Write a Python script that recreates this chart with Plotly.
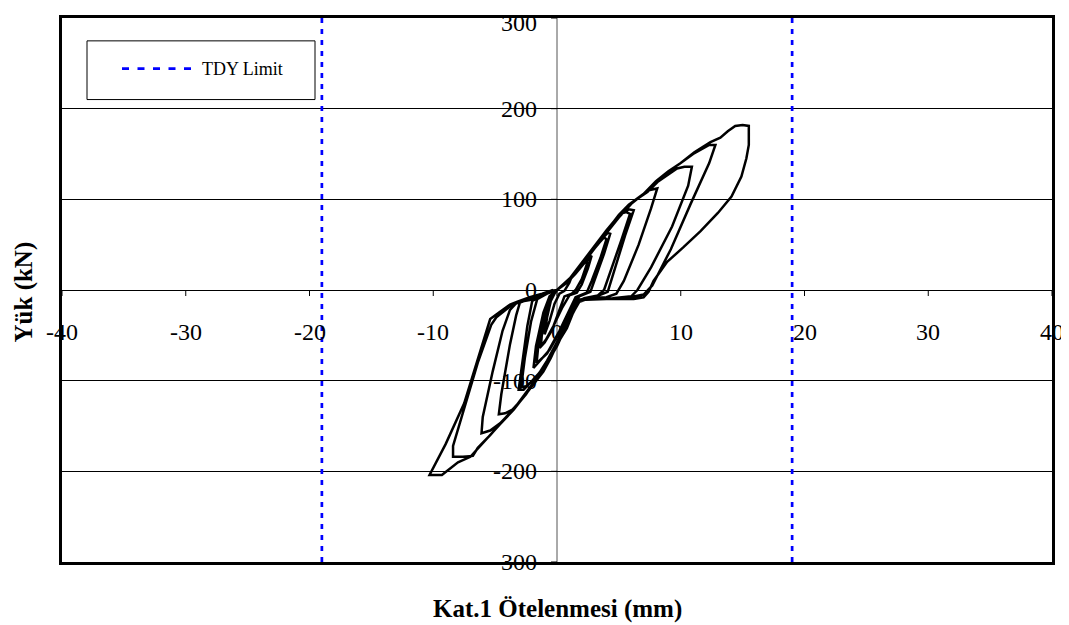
import plotly.graph_objects as go

# ---------------- data ----------------
# hysteresis path, cycle by cycle (displacement mm, load kN)
c1_x = [0, 0.5, 1.0, 1.2, 1.0, 0.6, 0.2, -0.2, -0.6, -1.0, -0.8, -0.5, -0.2, 0]
c1_y = [0, 6, 12, 15, 8, -1, -4, -15, -34, -49, -30, -12, -4, 0]

c2_x = [0, 0.6, 1.2, 1.8, 2.2, 2.5, 2.4, 2.0, 1.5, 1.2, 0.6, 0.2, -0.4, -1.0, -1.4, -1.1, -0.6, -0.3, 0]
c2_y = [0, 7, 15, 26, 32, 36, 28, 12, 0, -4, -7, -22, -44, -58, -64, -40, -15, -5, 0]

c2b_x = [0, 0.8, 1.5, 2.1, 2.6, 2.8, 2.5, 2.0, 1.6, 1.0, 0.4, -0.3, -0.9, -1.3, -1.2, -0.8, -0.4, 0]
c2b_y = [0, 8, 18, 28, 36, 38, 24, 6, -3, -6, -20, -40, -55, -62, -45, -20, -6, 0]

c3_x = [0, 1.0, 2.0, 2.8, 3.4, 3.8, 4.0, 3.5, 2.8, 2.4, 1.5, 1.0, 0.2, -0.8, -1.65, -1.5, -0.9, -0.5, -0.2, 0]
c3_y = [0, 12, 28, 42, 52, 58, 56, 35, 10, -3, -8, -22, -45, -70, -81, -60, -25, -8, -2, 0]

c3b_x = [0, 1.1, 2.1, 3.0, 3.6, 4.1, 4.3, 3.8, 3.1, 2.7, 1.8, 1.2, 0.4, -0.6, -1.5, -1.9, -1.7, -1.1, -0.6, 0]
c3b_y = [0, 12, 29, 45, 56, 63, 62, 40, 12, -2, -7, -20, -42, -66, -80, -86, -62, -25, -7, 0]

c4_x = [0, 1.0, 2.0, 3.0, 4.0, 4.6, 5.1, 5.6, 5.9, 5.2, 4.3, 3.8, 3.3, 2.2, 1.5, 0.8, 0, -1.0, -2.0,
        -2.7, -3.1, -2.8, -2.4, -2.0, -1.2, -0.5, 0]
c4_y = [0, 11, 28, 46, 64, 76, 84, 86, 84, 55, 20, 0, -6, -9, -14, -38, -62, -85, -100,
        -110, -110, -80, -40, -12, -6, -2, 0]

c4b_x = [0, 1.0, 2.0, 3.0, 4.0, 4.8, 5.3, 5.8, 6.2, 5.5, 4.7, 4.1, 3.0, 1.7, 1.0, 0.2, -0.8, -1.8,
         -2.5, -2.9, -2.6, -2.1, -1.6, -0.8, 0]
c4b_y = [0, 12, 30, 48, 66, 79, 85, 89, 88, 60, 25, -2, -8, -11, -30, -55, -80, -98,
         -106, -107, -75, -35, -10, -4, 0]

c5_x = [0, 1, 2, 3, 4, 5, 5.8, 6.6, 7.4, 8.1, 7.6, 6.6, 5.4, 4.8, 4.0, 2.5, 1.8, 1.2, 0.4, -0.6,
        -1.8, -2.8, -3.6, -4.2, -4.7, -4.5, -3.8, -3.3, -3.0, -2.2, -1.2, -0.4, 0]
c5_y = [0, 12, 29, 47, 65, 83, 94, 102, 110, 112, 90, 50, 10, -4, -8, -9, -12, -28, -50, -75,
        -102, -120, -132, -136, -137, -115, -60, -28, -14, -10, -5, -1, 0]

c6_x = [0, 1, 2, 3, 4, 5, 6, 7, 8, 9, 9.7, 10.3, 10.9, 10.6, 9.3, 7.6, 6.5, 6.0, 4.5, 2.5, 1.8,
        1.0, 0, -1.2, -2.5, -3.6, -4.6, -5.4, -6.1, -6.0, -5.2, -4.4, -3.8, -3.2, -2.2, -1.2, 0]
c6_y = [0, 12, 29, 47, 64, 82, 96, 106, 118, 128, 134, 136, 136, 115, 70, 25, 0, -7, -9, -10, -13,
        -32, -58, -88, -115, -133, -147, -155, -158, -140, -90, -45, -22, -13, -9, -4, 0]

c7_x = [0, 1, 2, 3, 4, 5, 6, 7, 8, 9, 10, 11, 11.8, 12.3, 12.8, 12.3, 10.8, 9.2, 7.7, 7.0, 5.5,
        3.0, 1.8, 1.2, 0.4, -0.8, -2.0, -3.2, -4.4, -5.4, -6.4, -6.8, -7.6, -8.4, -8.4, -7.5, -6.4,
        -5.3, -4.9, -3.8, -3.0, -2.2, -1.2, 0]
c7_y = [0, 11, 28, 46, 63, 80, 95, 106, 120, 131, 140, 150, 156, 160, 160, 140, 95, 45, 5, -5, -9,
        -10, -11, -26, -48, -78, -104, -126, -145, -160, -174, -183, -184, -184, -172, -130, -80,
        -38, -30, -18, -13, -11, -5, 0]

c8_x = [0, 1, 2, 3, 4, 5, 6, 7.3, 8.2, 8.9, 10, 11.1, 12.4, 13.2, 13.8, 14.4, 15.0, 15.5, 15.5,
        15.3, 14.9, 14.1, 13.0, 11.6, 10.2, 8.9, 7.8, 7.4, 7.0, 6.2, 4.0, 1.8, 1.3, 0.8, 0, -0.5,
        -1.1, -1.9, -2.7, -3.5, -4.6, -5.4, -6.2, -7.0, -8.0, -8.6, -9.3, -10.3, -9.0, -7.5, -6.0,
        -5.4, -4.6, -3.8, -3.2, -2.2, -1.2, -0.3]
c8_y = [0, 12, 29, 47, 64, 82, 96, 108, 120, 130, 140, 152, 163, 168, 175, 181, 182, 181, 160,
        145, 125, 103, 85, 65, 47, 31, 10, -2, -8, -10, -10, -11, -25, -42, -60, -75,
        -90, -104, -119, -132, -148, -160, -172, -184, -190, -196, -204, -204, -170, -125, -60,
        -32, -24, -16, -13, -8, -4, 0]

cycles_x = [c1_x, c2_x, c2b_x, c3_x, c3b_x, c4_x, c4b_x, c5_x, c6_x, c7_x, c8_x]
cycles_y = [c1_y, c2_y, c2b_y, c3_y, c3b_y, c4_y, c4b_y, c5_y, c6_y, c7_y, c8_y]

tdy_limit_mm = [-19, 19]
y_extent = [-300, 300]

x_ticks = [-40, -30, -20, -10, 0, 10, 20, 30, 40]
y_ticks = [-300, -200, -100, 0, 100, 200, 300]

x_title = "Kat.1 Ötelenmesi (mm)"
y_title = "Yük (kN)"
legend_label = "TDY Limit"

FONT = "Liberation Serif, Times New Roman, serif"

# page body has an 8px margin, so the figure is 8px smaller than the window
W, H = 1061, 617
ML, MT, MR, MB = 54, 7, 17, 63
PW, PH = W - ML - MR, H - MT - MB


def px_x(p):  # window pixel -> paper x
    return (p - 8 - ML) / PW


def px_y(p):  # window pixel -> paper y
    return 1 - (p - 8 - MT) / PH


# ---------------- figure ----------------
fig = go.Figure()

path_x, path_y = [], []
for cx, cy in zip(cycles_x, cycles_y):
    path_x += cx
    path_y += cy

fig.add_trace(go.Scatter(x=path_x, y=path_y, mode="lines",
                         line=dict(color="black", width=2.5),
                         showlegend=False, hoverinfo="skip"))

for xv in tdy_limit_mm:
    fig.add_trace(go.Scatter(x=[xv, xv], y=y_extent, mode="lines",
                             name=legend_label, showlegend=False,
                             line=dict(color="#0000FF", width=2.7, dash="5px,6px")))

shapes = []
shapes.append(dict(type="line", xref="x", yref="y", x0=0, x1=0, y0=y_ticks[0], y1=y_ticks[-1],
                   line=dict(color="#555555", width=1), layer="below"))
for xv in x_ticks:
    shapes.append(dict(type="line", xref="x", yref="y", xsizemode="scaled", ysizemode="pixel",
                       yanchor=0, x0=xv, x1=xv, y0=0, y1=-6,
                       line=dict(color="black", width=1)))
for yv in y_ticks:
    shapes.append(dict(type="line", xref="x", yref="y", xsizemode="pixel", xanchor=0,
                       x0=-6, x1=0, y0=yv, y1=yv,
                       line=dict(color="black", width=1)))

# legend box (drawn manually)
shapes.append(dict(type="rect", xref="paper", yref="paper",
                   x0=px_x(87), x1=px_x(315), y0=px_y(97), y1=px_y(38),
                   line=dict(color="black", width=1), fillcolor="white"))
shapes.append(dict(type="line", xref="paper", yref="paper",
                   x0=px_x(122), x1=px_x(191), y0=px_y(66), y1=px_y(66),
                   line=dict(color="#0000FF", width=2.7, dash="7px,8.5px")))

annotations = []
for xv in x_ticks:
    annotations.append(dict(x=xv, y=0, xref="x", yref="y", text=str(xv), showarrow=False,
                            xanchor="center", yanchor="middle", yshift=-42,
                            font=dict(family=FONT, size=24, color="black")))
for yv in y_ticks:
    annotations.append(dict(x=0, y=yv, xref="x", yref="y", text=str(yv), showarrow=False,
                            xanchor="right", yanchor="middle", xshift=-18,
                            yshift=(-5 if yv == y_ticks[-1] else 0),
                            font=dict(family=FONT, size=24, color="black")))
annotations.append(dict(x=px_x(200), y=px_y(66), xref="paper", yref="paper",
                        text=legend_label, showarrow=False, xanchor="left", yanchor="middle",
                        font=dict(family=FONT, size=18, color="black")))
annotations.append(dict(x=px_x(557), y=px_y(609), xref="paper", yref="paper",
                        text="<b>" + x_title + "</b>", showarrow=False,
                        xanchor="center", yanchor="middle",
                        font=dict(family=FONT, size=25, color="black")))
annotations.append(dict(x=px_x(24), y=px_y(291), xref="paper", yref="paper",
                        text="<b>" + y_title + "</b>", showarrow=False, textangle=-90,
                        xanchor="center", yanchor="middle",
                        font=dict(family=FONT, size=25, color="black")))

fig.update_layout(
    width=W, height=H,
    margin=dict(l=ML, r=MR, t=MT, b=MB),
    paper_bgcolor="white", plot_bgcolor="white",
    showlegend=False,
    shapes=shapes, annotations=annotations,
    xaxis=dict(range=[x_ticks[0], x_ticks[-1]], showgrid=False, zeroline=False,
               showticklabels=False, ticks="", showline=True, mirror=True,
               linecolor="black", linewidth=2.5, fixedrange=True),
    yaxis=dict(range=[y_ticks[0], y_ticks[-1]], tickvals=y_ticks, showgrid=True,
               gridcolor="black", gridwidth=1, zeroline=True, zerolinecolor="black",
               zerolinewidth=1, showticklabels=False, ticks="", showline=True, mirror=True,
               linecolor="black", linewidth=2.5, fixedrange=True),
)

fig.write_html("out.html")
